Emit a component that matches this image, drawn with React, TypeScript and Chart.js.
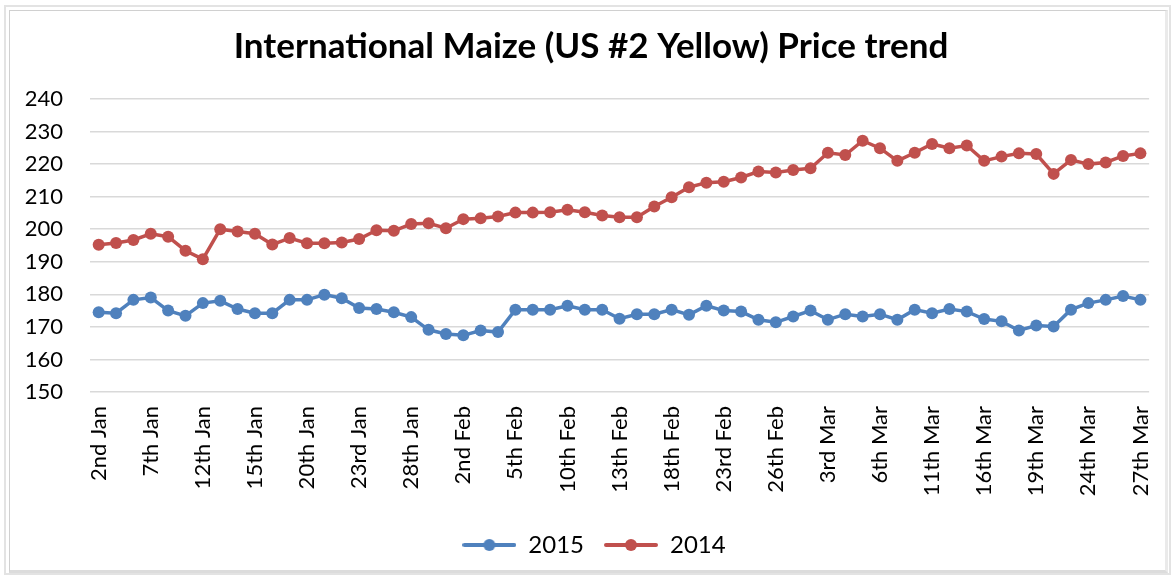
import React, { useEffect, useRef } from "react";
import { Chart, registerables } from "chart.js";

Chart.register(...registerables);

const dates = [
  "2nd Jan", "5th Jan", "6th Jan", "7th Jan", "8th Jan", "9th Jan", "12th Jan", "13th Jan", "14th Jan", "15th Jan",
  "16th Jan", "19th Jan", "20th Jan", "21st Jan", "22nd Jan", "23rd Jan", "26th Jan", "27th Jan", "28th Jan", "29th Jan",
  "30th Jan", "2nd Feb", "3rd Feb", "4th Feb", "5th Feb", "6th Feb", "9th Feb", "10th Feb", "11th Feb", "12th Feb",
  "13th Feb", "16th Feb", "17th Feb", "18th Feb", "19th Feb", "20th Feb", "23rd Feb", "24th Feb", "25th Feb", "26th Feb",
  "27th Feb", "2nd Mar", "3rd Mar", "4th Mar", "5th Mar", "6th Mar", "9th Mar", "10th Mar", "11th Mar", "12th Mar",
  "13th Mar", "16th Mar", "17th Mar", "18th Mar", "19th Mar", "20th Mar", "23rd Mar", "24th Mar", "25th Mar", "26th Mar",
  "27th Mar",
];

const prices2015 = [
  174.5, 174.2, 178.3, 179.0, 175.0, 173.4, 177.3, 178.0, 175.5, 174.2,
  174.2, 178.3, 178.3, 179.9, 178.8, 175.8, 175.5, 174.5, 173.0, 169.1,
  167.8, 167.4, 168.9, 168.4, 175.3, 175.3, 175.3, 176.5, 175.3, 175.3,
  172.5, 173.9, 173.9, 175.3, 173.7, 176.5, 175.0, 174.7, 172.2, 171.4,
  173.2, 175.0, 172.2, 173.9, 173.2, 173.9, 172.2, 175.3, 174.2, 175.5,
  174.7, 172.4, 171.7, 168.9, 170.4, 170.1, 175.3, 177.3, 178.3, 179.5,
  178.3,
];

const prices2014 = [
  195.2, 195.8, 196.7, 198.6, 197.7, 193.4, 190.8, 200.0, 199.3, 198.6,
  195.3, 197.3, 195.7, 195.7, 195.9, 197.0, 199.7, 199.5, 201.6, 201.8,
  200.3, 203.1, 203.4, 203.9, 205.1, 205.1, 205.2, 206.0, 205.2, 204.2,
  203.7, 203.7, 207.0, 209.8, 212.9, 214.3, 214.6, 215.9, 217.7, 217.4,
  218.2, 218.7, 223.5, 222.8, 227.2, 224.9, 221.0, 223.5, 226.2, 224.9,
  225.7, 221.0, 222.3, 223.3, 223.1, 217.0, 221.3, 220.0, 220.5, 222.5,
  223.3,
];

const seriesNames = ["2015", "2014"];
const yTicks = { min: 150, max: 240, step: 10 };
const titleText = "International Maize (US #2 Yellow) Price trend";

const BLUE = "#4F81BD";
const RED = "#C0504D";
const FONT = "Lato, 'Open Sans', sans-serif";

function legendIcon(color: string): HTMLCanvasElement {
  const c = document.createElement("canvas");
  c.width = 54;
  c.height = 14;
  const ctx = c.getContext("2d")!;
  ctx.strokeStyle = color;
  ctx.lineWidth = 4;
  ctx.lineCap = "round";
  ctx.beginPath();
  ctx.moveTo(2, 7);
  ctx.lineTo(52, 7);
  ctx.stroke();
  ctx.fillStyle = color;
  ctx.beginPath();
  ctx.arc(27, 7, 6, 0, Math.PI * 2);
  ctx.fill();
  return c;
}

// nudges the title and legend blocks sideways to match the reference's centring
const shiftBlocks = {
  id: "shiftBlocks",
  afterLayout(chart: any) {
    if (chart.titleBlock) {
      chart.titleBlock.left += 7;
      chart.titleBlock.right += 7;
    }
    if (chart.legend) {
      chart.legend.left += 10;
      chart.legend.right += 10;
    }
  },
};

export default function App() {
  const ref = useRef<HTMLCanvasElement | null>(null);

  useEffect(() => {
    const canvas = ref.current;
    if (!canvas) return;
    const colors = [BLUE, RED];
    const icons = colors.map((c) => legendIcon(c));
    const chart = new Chart(canvas, {
      type: "line",
      data: {
        labels: dates,
        datasets: [prices2015, prices2014].map((d, i) => ({
          label: seriesNames[i],
          data: d,
          borderColor: colors[i],
          backgroundColor: colors[i],
          borderWidth: 3.5,
          pointRadius: 6,
          pointHoverRadius: 6,
          pointBorderWidth: 0,
          pointBackgroundColor: colors[i],
          tension: 0,
        })),
      },
      plugins: [shiftBlocks],
      options: {
        animation: false,
        responsive: false,
        maintainAspectRatio: false,
        layout: { padding: { left: 16, right: 21, top: 12, bottom: 11 } },
        plugins: {
          title: {
            display: true,
            text: titleText,
            color: "#000",
            font: { family: FONT, size: 35, weight: "bold" },
            padding: { top: 14, bottom: 31 },
          },
          legend: {
            position: "bottom",
            labels: {
              usePointStyle: true,
              pointStyleWidth: 54,
              padding: 20,
              color: "#000",
              font: { family: FONT, size: 24 },
              generateLabels: (ch: any) =>
                ch.data.datasets.map((ds: any, i: number) => ({
                  text: ds.label,
                  fillStyle: colors[i],
                  strokeStyle: colors[i],
                  pointStyle: icons[i],
                  datasetIndex: i,
                  hidden: false,
                  lineWidth: 0,
                  fontColor: "#000",
                })),
            },
          },
          tooltip: { enabled: false },
        },
        scales: {
          x: {
            offset: true,
            grid: { display: false },
            border: { display: false },
            afterFit: (s: any) => {
              s.height = 121;
            },
            ticks: {
              autoSkip: false,
              maxRotation: 90,
              minRotation: 90,
              padding: 6,
              color: "#000",
              font: { family: FONT, size: 22 },
              callback: (_v: any, idx: number) => (idx % 3 === 0 ? dates[idx] : ""),
            },
          },
          y: {
            min: yTicks.min,
            max: yTicks.max,
            grid: { color: "#d9d9d9", lineWidth: 1.5, drawTicks: false },
            border: { display: false },
            afterFit: (s: any) => {
              s.width = 74;
            },
            ticks: {
              stepSize: yTicks.step,
              padding: 27,
              color: "#000",
              font: { family: FONT, size: 22 },
            },
          },
        },
      },
    } as any);
    return () => chart.destroy();
  }, []);

  return (
    <div style={{ position: "fixed", left: 0, top: 0, width: 1173, height: 578, background: "#fff" }}>
      <div
        style={{
          position: "absolute",
          left: 4,
          top: 5,
          right: 2,
          bottom: 3,
          border: "2px solid #e3e3e3",
          boxSizing: "border-box",
        }}
      />
      <div
        style={{
          position: "absolute",
          left: 9,
          top: 10,
          right: 5,
          bottom: 5,
          border: "1px solid #d0d0d0",
          borderRight: "3px solid #eaeaea",
          borderBottom: "3px solid #dcdcdc",
          boxSizing: "border-box",
        }}
      />
      <canvas ref={ref} width={1173} height={578} style={{ position: "absolute", left: 0, top: 0 }} />
    </div>
  );
}
